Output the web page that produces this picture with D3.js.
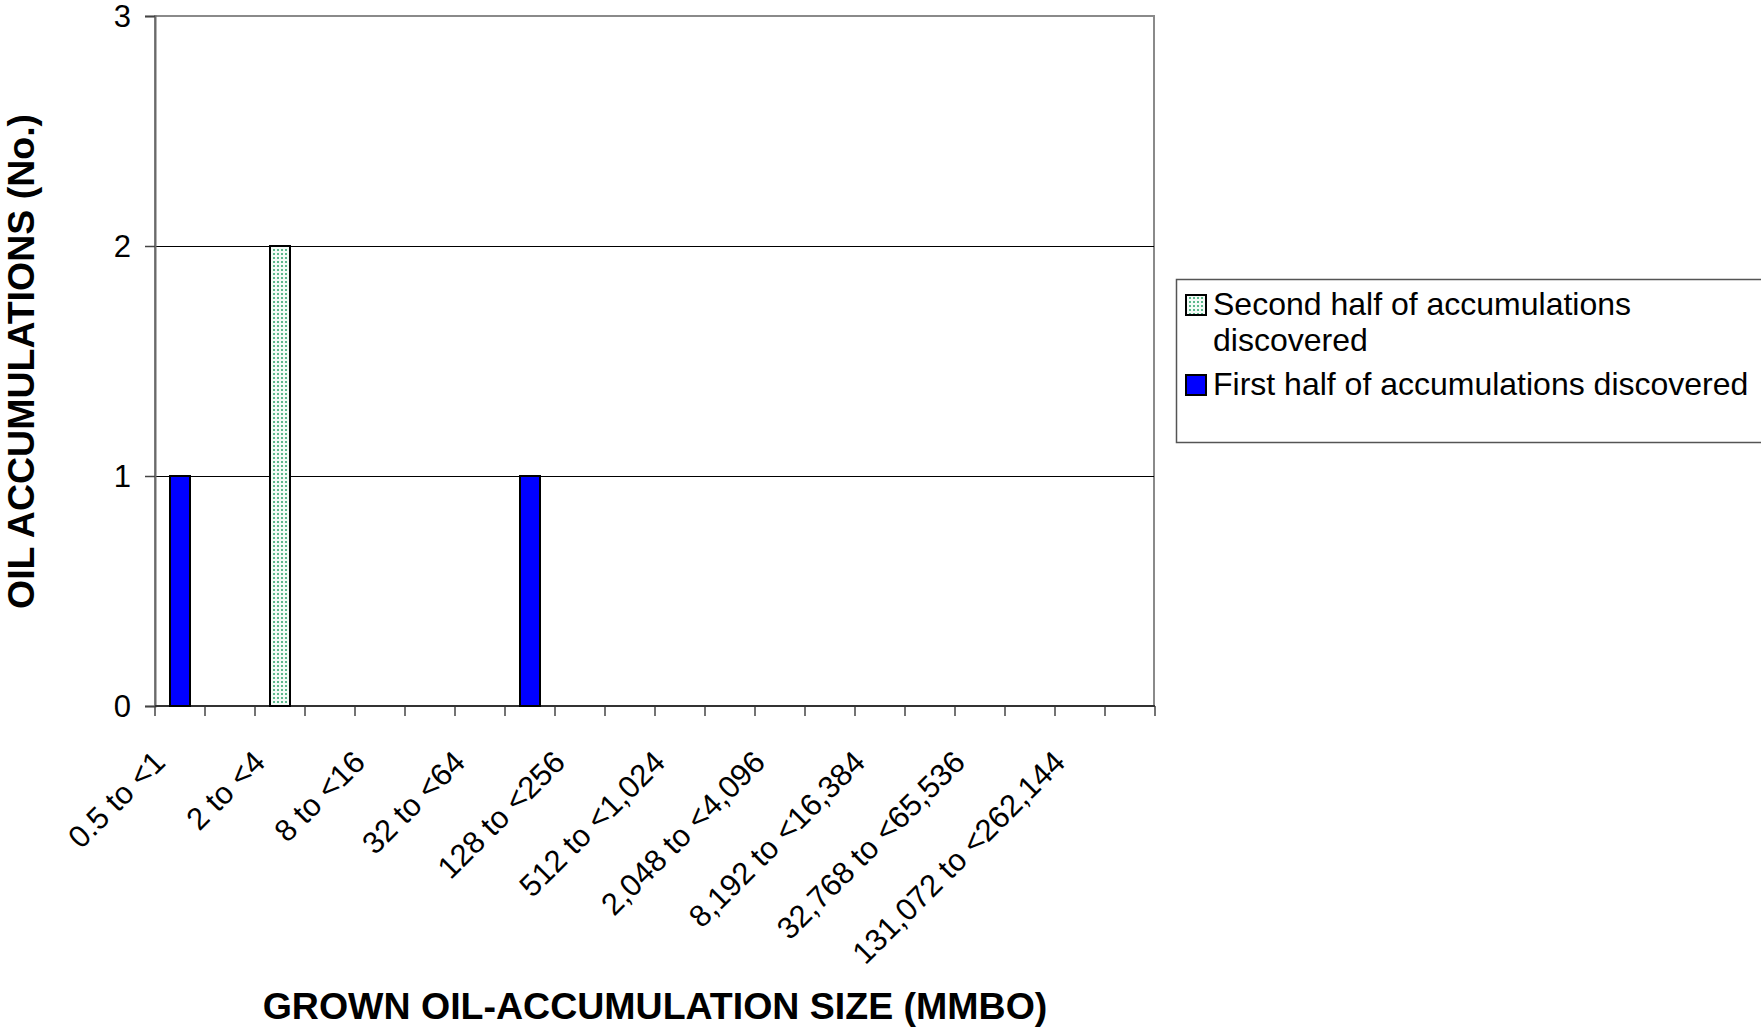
<!DOCTYPE html>
<html>
<head>
<meta charset="utf-8">
<script src="https://cdn.jsdelivr.net/npm/d3@7"></script>
<style>
  html, body { margin: 0; padding: 0; background: #fff; }
  svg { display: block; font-family: "Liberation Sans", Arial, sans-serif; }
</style>
</head>
<body>
<svg id="chart" width="1761" height="1029"></svg>
<script>
// ---- data ----
const categories = [
  "0.5 to <1", "1 to <2", "2 to <4", "4 to <8", "8 to <16", "16 to <32",
  "32 to <64", "64 to <128", "128 to <256", "256 to <512", "512 to <1,024",
  "1,024 to <2,048", "2,048 to <4,096", "4,096 to <8,192", "8,192 to <16,384",
  "16,384 to <32,768", "32,768 to <65,536", "65,536 to <131,072",
  "131,072 to <262,144", "262,144 to <524,288"
];
const firstHalf  = [1, 0, 0, 0, 0, 0, 0, 1, 0, 0, 0, 0, 0, 0, 0, 0, 0, 0, 0, 0];
const secondHalf = [0, 0, 2, 0, 0, 0, 0, 0, 0, 0, 0, 0, 0, 0, 0, 0, 0, 0, 0, 0];
const seriesNames = ["Second half of accumulations discovered", "First half of accumulations discovered"];
const legendLines = ["Second half of accumulations", "discovered"];
const yTicks = [0, 1, 2, 3];
const xTitle = "GROWN OIL-ACCUMULATION SIZE (MMBO)";
const yTitle = "OIL ACCUMULATIONS (No.)";

// ---- layout ----
const svg = d3.select("#chart");
const pL = 155, pR = 1155, pT = 16, pB = 706;

const defs = svg.append("defs");
const pat = defs.append("pattern").attr("id", "dots")
  .attr("width", 4).attr("height", 4).attr("patternUnits", "userSpaceOnUse");
pat.append("rect").attr("width", 4).attr("height", 4).attr("fill", "#f4fbf7");
pat.append("rect").attr("x", 1).attr("y", 1).attr("width", 2).attr("height", 2).attr("fill", "#5cb88c");

const x = d3.scaleBand().domain(categories).range([pL, pR]).padding(0);
const y = d3.scaleLinear().domain([0, 3]).range([pB, pT]);
const bw = x.bandwidth();

// plot frame
svg.append("rect").attr("x", pL).attr("y", pT)
  .attr("width", pR - pL - 1).attr("height", pB - pT)
  .attr("fill", "#fff").attr("stroke", "#8a8a8a").attr("stroke-width", 2);

// gridlines
svg.append("g").selectAll("line").data(yTicks.filter(d => d > 0 && d < 3)).join("line")
  .attr("x1", pL).attr("x2", pR - 1)
  .attr("y1", d => Math.round(y(d)) + 0.5).attr("y2", d => Math.round(y(d)) + 0.5)
  .attr("stroke", "#000").attr("stroke-width", 1.2);

// y axis
const yAxis = d3.axisLeft(y).tickValues(yTicks).tickSize(10).tickPadding(14).tickFormat(d3.format("d"));
const gy = svg.append("g").attr("transform", `translate(${pL},0)`).call(yAxis);
gy.select(".domain").attr("stroke", "#6a6a6a").attr("stroke-width", 2);
gy.selectAll(".tick line").attr("stroke", "#444").attr("stroke-width", 1.5);
gy.selectAll(".tick text").attr("font-size", 31).attr("fill", "#000")
  .attr("font-family", "'Liberation Sans', Arial, sans-serif").attr("dy", "0.35em");

// x axis ticks at category boundaries
const boundaries = categories.map(c => x(c)).concat([x(categories[categories.length - 1]) + bw]);
svg.append("g").selectAll("line").data(boundaries).join("line")
  .attr("x1", d => d).attr("x2", d => d).attr("y1", pB).attr("y2", pB + 10)
  .attr("stroke", "#444").attr("stroke-width", 1.5);
svg.append("line").attr("x1", pL).attr("x2", pR).attr("y1", pB).attr("y2", pB)
  .attr("stroke", "#333").attr("stroke-width", 2);

// stacked bars
const rows = categories.map((c, i) => ({ cat: c, first: firstHalf[i], second: secondHalf[i] }));
const stack = d3.stack().keys(["first", "second"])(rows);
const fills = { first: "#0000ff", second: "url(#dots)" };
svg.append("g").selectAll("g").data(stack).join("g")
  .attr("fill", d => fills[d.key])
  .selectAll("rect").data(d => d.filter(p => p[1] - p[0] > 0)).join("rect")
  .attr("x", d => x(d.data.cat) + bw * 0.3)
  .attr("width", bw * 0.4)
  .attr("y", d => y(d[1]))
  .attr("height", d => y(d[0]) - y(d[1]))
  .attr("stroke", "#000").attr("stroke-width", 2);

// x labels (every other category)
svg.append("g").selectAll("text").data(categories.filter((c, i) => i % 2 === 0)).join("text")
  .attr("transform", c => `translate(${x(c) + bw / 2 - 13},764) rotate(-45)`)
  .attr("text-anchor", "end")
  .attr("font-size", 31)
  .attr("fill", "#000")
  .text(c => c);

// axis titles
svg.append("text").attr("x", (pL + pR) / 2).attr("y", 1019)
  .attr("text-anchor", "middle").attr("font-size", 37.5).attr("font-weight", "bold")
  .text(xTitle);
svg.append("text").attr("transform", "translate(34,609) rotate(-90)")
  .attr("text-anchor", "start").attr("font-size", 37.5).attr("font-weight", "bold")
  .text(yTitle);

// legend
const lg = svg.append("g");
lg.append("rect").attr("x", 1176.5).attr("y", 279.5).attr("width", 640).attr("height", 163)
  .attr("fill", "#fff").attr("stroke", "#555").attr("stroke-width", 1.5);
lg.append("rect").attr("x", 1186).attr("y", 295).attr("width", 20).attr("height", 20)
  .attr("fill", "url(#dots)").attr("stroke", "#000").attr("stroke-width", 2);
lg.append("text").attr("x", 1213).attr("font-size", 32)
  .selectAll("tspan").data(legendLines).join("tspan")
  .attr("x", 1213).attr("y", (d, i) => 315 + i * 36).text(d => d);
lg.append("rect").attr("x", 1186).attr("y", 375).attr("width", 20).attr("height", 20)
  .attr("fill", "#0000ff").attr("stroke", "#000").attr("stroke-width", 2);
lg.append("text").attr("x", 1213).attr("y", 395).attr("font-size", 32).text(seriesNames[1]);
</script>
</body>
</html>
